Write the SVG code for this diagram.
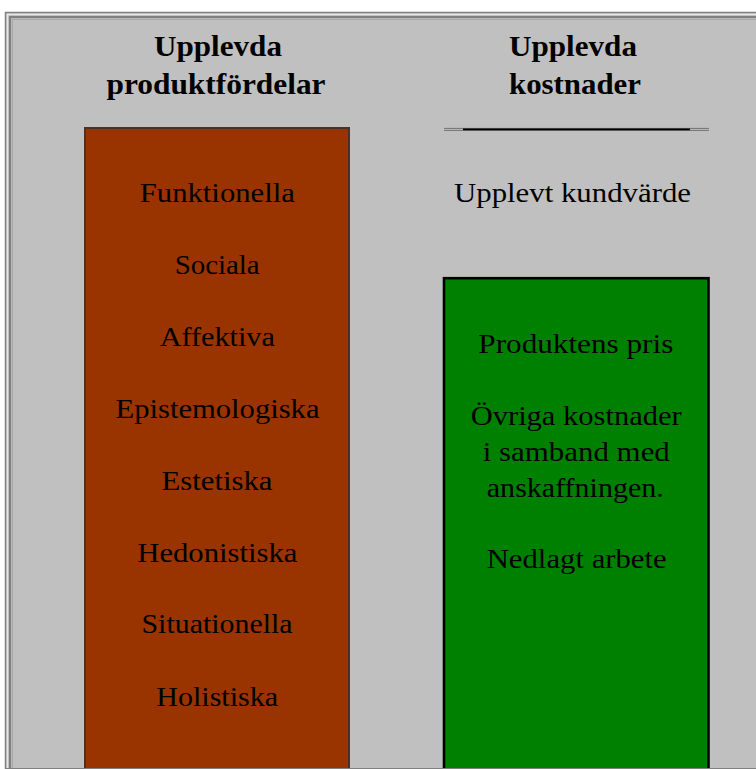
<svg xmlns="http://www.w3.org/2000/svg" width="756" height="769" viewBox="0 0 756 769">
  <style>
    .title { font-family: "Liberation Serif", "Times New Roman", serif; font-weight: bold; font-size: 30px; fill: #000; text-anchor: middle; }
    .item { font-family: "Liberation Serif", "Times New Roman", serif; font-size: 26.5px; fill: #000; text-anchor: middle; }
    .frameline { fill: none; stroke: #808080; }
  </style>
  <rect x="0" y="0" width="756" height="769" fill="#ffffff"/>
  <g id="frame">
    <rect x="5" y="12" width="760" height="770" fill="#c0c0c0"/>
    <rect x="5.5" y="12.5" width="760" height="770" class="frameline" stroke-width="1.5"/>
    <rect x="7.5" y="14.5" width="760" height="770" fill="none" stroke="#e6e6e6" stroke-width="1.5"/>
    <rect x="10" y="17" width="760" height="770" class="frameline" stroke-width="2.2"/>
    <rect x="12.5" y="19.5" width="760" height="770" fill="none" stroke="#a8a8a8" stroke-width="1"/>
  </g>
  <g id="title-benefits">
    <text class="title" x="218" y="56" textLength="128" lengthAdjust="spacingAndGlyphs">Upplevda</text>
    <text class="title" x="216" y="94" textLength="219" lengthAdjust="spacingAndGlyphs">produktfördelar</text>
  </g>
  <g id="title-costs">
    <text class="title" x="573" y="56" textLength="128" lengthAdjust="spacingAndGlyphs">Upplevda</text>
    <text class="title" x="575" y="94" textLength="132" lengthAdjust="spacingAndGlyphs">kostnader</text>
  </g>
  <g id="divider">
    <line x1="444" y1="128.4" x2="709" y2="128.4" stroke="#707070" stroke-width="1"/>
    <line x1="444" y1="130.4" x2="709" y2="130.4" stroke="#707070" stroke-width="1"/>
    <line x1="463" y1="129.3" x2="690" y2="129.3" stroke="#000000" stroke-width="1.8"/>
  </g>
  <g id="customer-value">
    <text class="item" x="572.5" y="202" textLength="237" lengthAdjust="spacingAndGlyphs">Upplevt kundvärde</text>
  </g>
  <g id="benefits-box">
    <rect x="85" y="128" width="264" height="660" fill="#993300" stroke="#4a3226" stroke-width="2"/>
    <text class="item" x="217.3" y="202" textLength="155" lengthAdjust="spacingAndGlyphs">Funktionella</text>
    <text class="item" x="217.2" y="274" textLength="85" lengthAdjust="spacingAndGlyphs">Sociala</text>
    <text class="item" x="217.3" y="345.5" textLength="115" lengthAdjust="spacingAndGlyphs">Affektiva</text>
    <text class="item" x="217.5" y="417.5" textLength="204" lengthAdjust="spacingAndGlyphs">Epistemologiska</text>
    <text class="item" x="217" y="489.5" textLength="111" lengthAdjust="spacingAndGlyphs">Estetiska</text>
    <text class="item" x="217.3" y="561.5" textLength="160" lengthAdjust="spacingAndGlyphs">Hedonistiska</text>
    <text class="item" x="217" y="633" textLength="151" lengthAdjust="spacingAndGlyphs">Situationella</text>
    <text class="item" x="217.2" y="705.5" textLength="122" lengthAdjust="spacingAndGlyphs">Holistiska</text>
  </g>
  <g id="costs-box">
    <rect x="444" y="278.2" width="264.5" height="510" fill="#008000" stroke="#000000" stroke-width="2.6"/>
    <text class="item" x="575.8" y="352.7" textLength="195" lengthAdjust="spacingAndGlyphs">Produktens pris</text>
    <text class="item" x="576.2" y="425" textLength="211" lengthAdjust="spacingAndGlyphs">Övriga kostnader</text>
    <text class="item" x="576.3" y="461" textLength="187" lengthAdjust="spacingAndGlyphs">i samband med</text>
    <text class="item" x="575.3" y="496.5" textLength="177" lengthAdjust="spacingAndGlyphs">anskaffningen.</text>
    <text class="item" x="576.7" y="568" textLength="180" lengthAdjust="spacingAndGlyphs">Nedlagt arbete</text>
  </g>
  <g id="frame-bottom">
    <line x1="5" y1="768.5" x2="756" y2="768.5" stroke="#808080" stroke-width="1"/>
  </g>
</svg>
